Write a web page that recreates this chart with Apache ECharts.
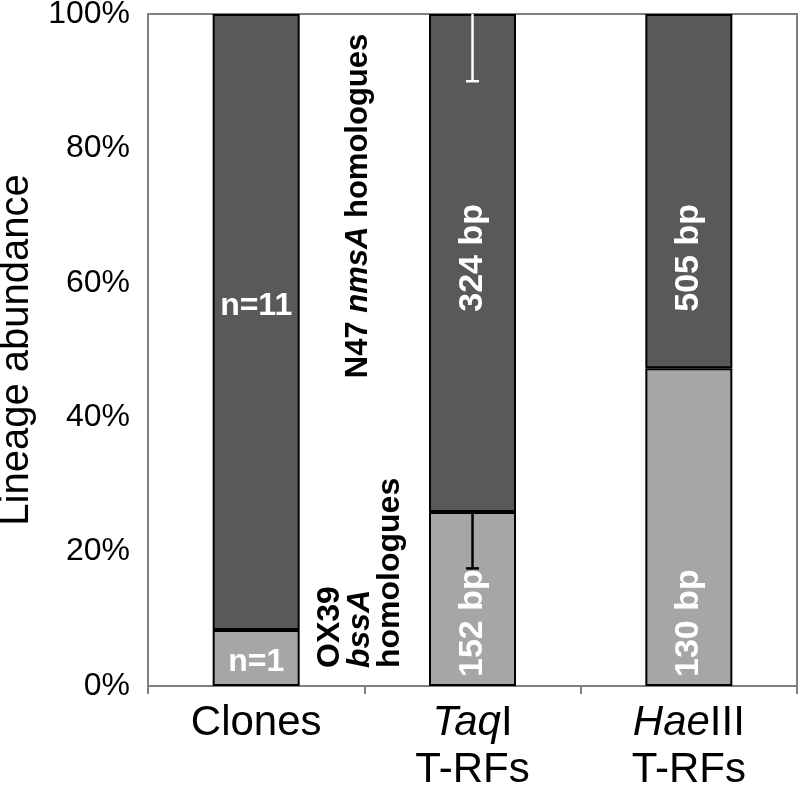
<!DOCTYPE html>
<html>
<head>
<meta charset="utf-8">
<script src="https://cdn.jsdelivr.net/npm/echarts@6/dist/echarts.min.js"></script>
<style>
  html, body { margin: 0; padding: 0; background: #fff; }
  #main { width: 802px; height: 788px; }
</style>
</head>
<body>
<div id="main"></div>
<script>
// categories along the x axis
const categories = ['Clones', 'TaqI T-RFs', 'HaeIII T-RFs']
// lineage abundance (%), stacked: OX39 bssA below, N47 nmsA above
const bssAValues = [8.33, 25.9, 47.3]
const nmsAValues = [91.67, 74.1, 52.7]
// lower error bars (%), null = no error bar
const bssAErr = [null, 8.4, null]
const nmsAErr = [null, 10, null]
// text inside the bars
const bssALabels = ['n=1', '152 bp', '130 bp']
const nmsALabels = ['n=11', '324 bp', '505 bp']
const yTicks = [0, 20, 40, 60, 80, 100]

const FONT = '"Liberation Sans", Arial, Helvetica, sans-serif'
const chart = echarts.init(document.getElementById('main'))

function barData(values, labels, isTop) {
  return values.map((v, i) => {
    let label
    if (i === 0) {
      label = { show: true, position: 'inside', fontSize: 32, offset: isTop ? [0, -16] : [0, 4] }
    } else if (isTop) {
      label = { show: true, position: 'insideTop', distance: 190, rotate: 90, align: 'right', verticalAlign: 'middle' }
    } else {
      label = { show: true, position: 'insideBottom', distance: 9, rotate: 90, align: 'left', verticalAlign: 'middle' }
    }
    label.formatter = labels[i]
    return { value: v, label: label }
  })
}

// error bar items: [category index, top of segment, lower end]
function errData(base, values, errs) {
  let out = []
  errs.forEach((e, i) => {
    if (e == null) return
    const top = base[i] + values[i]
    out.push([i, top, top - e])
  })
  return out
}

function renderErr(color) {
  return function (params, api) {
    const top = api.coord([api.value(0), api.value(1)])
    const low = api.coord([api.value(0), api.value(2)])
    const half = 6.5
    return {
      type: 'group',
      children: [
        { type: 'line', shape: { x1: top[0], y1: top[1], x2: low[0], y2: low[1] }, style: { stroke: color, lineWidth: 2.5 } },
        { type: 'line', shape: { x1: low[0] - half, y1: low[1], x2: low[0] + half, y2: low[1] }, style: { stroke: color, lineWidth: 2.5 } }
      ]
    }
  }
}

const zeros = categories.map(() => 0)

let option = {
  animation: false,
  textStyle: { fontFamily: FONT },
  grid: {
    left: 148, right: 5, top: 14, bottom: 102,
    outerBoundsMode: 'none',
    containLabel: false,
    show: true, borderColor: '#808080', borderWidth: 2, backgroundColor: 'transparent'
  },
  xAxis: {
    type: 'category',
    data: categories,
    axisLine: { lineStyle: { color: '#808080', width: 2 } },
    axisTick: { show: true, length: 8, lineStyle: { color: '#808080', width: 2 } },
    axisLabel: {
      margin: 14,
      color: '#000',
      formatter: function (v) {
        if (v === 'Clones') return '{n|Clones}'
        if (v === 'TaqI T-RFs') return '{i|Taq}{n|I}\n{n|T-RFs}'
        return '{i|Hae}{n|III}\n{n|T-RFs}'
      },
      rich: {
        n: { fontSize: 42, fontFamily: FONT, color: '#000', lineHeight: 47 },
        i: { fontSize: 42, fontFamily: FONT, color: '#000', fontStyle: 'italic', lineHeight: 47 }
      }
    }
  },
  yAxis: {
    type: 'value',
    min: yTicks[0],
    max: yTicks[yTicks.length - 1],
    interval: 20,
    name: 'Lineage abundance',
    nameLocation: 'middle',
    nameGap: 108,
    nameTextStyle: { fontSize: 40, color: '#000', fontFamily: FONT },
    axisLine: { show: true, lineStyle: { color: '#808080', width: 2 } },
    axisTick: { show: false },
    splitLine: { show: false },
    axisLabel: { formatter: '{value}%', fontSize: 32, color: '#000', margin: 18, fontFamily: FONT }
  },
  series: [
    {
      name: 'OX39 bssA homologues',
      type: 'bar',
      stack: 'total',
      barWidth: 87,
      itemStyle: { color: '#a6a6a6', borderColor: '#000', borderWidth: 2 },
      label: { color: '#fff', fontSize: 34, fontWeight: 'bold', fontFamily: FONT },
      data: barData(bssAValues, bssALabels, false)
    },
    {
      name: 'N47 nmsA homologues',
      type: 'bar',
      stack: 'total',
      barWidth: 87,
      itemStyle: { color: '#595959', borderColor: '#000', borderWidth: 2 },
      label: { color: '#fff', fontSize: 34, fontWeight: 'bold', fontFamily: FONT },
      data: barData(nmsAValues, nmsALabels, true)
    },
    {
      type: 'custom',
      renderItem: renderErr('#000'),
      encode: { x: 0, y: [1, 2] },
      z: 3,
      data: errData(zeros, bssAValues, bssAErr)
    },
    {
      type: 'custom',
      renderItem: renderErr('#fff'),
      encode: { x: 0, y: [1, 2] },
      z: 3,
      data: errData(bssAValues, nmsAValues, nmsAErr)
    }
  ],
  graphic: [
    {
      type: 'text',
      x: 358, y: 206,
      rotation: Math.PI / 2,
      style: {
        text: '{b|N47 }{i|nmsA}{b| homologues}',
        align: 'center', verticalAlign: 'middle',
        rich: {
          b: { fontSize: 31, fontWeight: 'bold', fontFamily: FONT, fill: '#000' },
          i: { fontSize: 31, fontWeight: 'bold', fontStyle: 'italic', fontFamily: FONT, fill: '#000' }
        }
      }
    },
    {
      type: 'text',
      x: 360, y: 668,
      rotation: Math.PI / 2,
      style: {
        text: '{b|OX39}\n{i|bssA}\n{b|homologues}',
        align: 'left', verticalAlign: 'middle',
        rich: {
          b: { fontSize: 32, fontWeight: 'bold', fontFamily: FONT, fill: '#000', lineHeight: 30 },
          i: { fontSize: 32, fontWeight: 'bold', fontStyle: 'italic', fontFamily: FONT, fill: '#000', lineHeight: 30 }
        }
      }
    }
  ]
}

chart.setOption(option)
window.addEventListener('resize', () => {
  chart.resize()
})
</script>
</body>
</html>
